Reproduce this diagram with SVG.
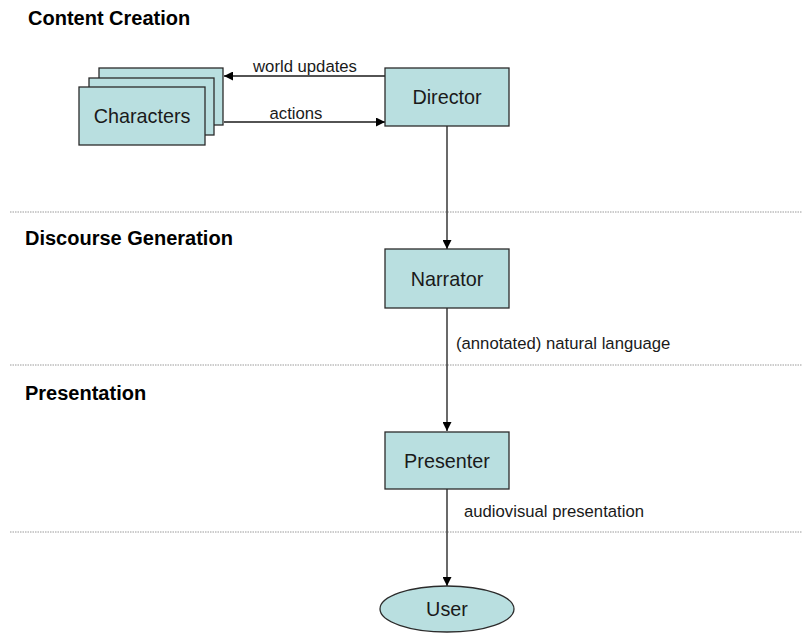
<svg xmlns="http://www.w3.org/2000/svg" width="802" height="633" viewBox="0 0 802 633">
  <style>
    .box { fill: #b9dfe0; stroke: #2b2b2b; stroke-width: 1.3; }
    .lbl { font-family: "Liberation Sans", Arial, sans-serif; font-size: 19.8px; fill: #1a1a1a; text-anchor: middle; }
    .edge { font-family: "Liberation Sans", Arial, sans-serif; font-size: 16.7px; fill: #1a1a1a; }
    .head { font-family: "Liberation Sans", Arial, sans-serif; font-size: 20px; font-weight: bold; fill: #000; }
    .sep { stroke: #9a9a9a; stroke-width: 1; stroke-dasharray: 1.5 1; }
    .conn { stroke: #1a1a1a; stroke-width: 1.3; fill: none; marker-end: url(#arrow); }
  </style>
  <defs>
    <marker id="arrow" viewBox="0 0 10 10" refX="10" refY="5" markerWidth="9" markerHeight="9" markerUnits="userSpaceOnUse" orient="auto">
      <path d="M0,0 L10,5 L0,10 Z" fill="#000"/>
    </marker>
  </defs>
  <rect width="802" height="633" fill="#fff"/>

  <!-- layer separators -->
  <g id="separators">
    <line class="sep" x1="10" y1="212" x2="802" y2="212"/>
    <line class="sep" x1="10" y1="365" x2="802" y2="365"/>
    <line class="sep" x1="10" y1="532" x2="802" y2="532"/>
  </g>

  <!-- layer headings -->
  <g id="headings">
    <text class="head" x="28" y="25">Content Creation</text>
    <text class="head" x="25" y="245">Discourse Generation</text>
    <text class="head" x="25" y="400">Presentation</text>
  </g>

  <!-- connectors -->
  <g id="connectors">
    <line class="conn" x1="385" y1="76" x2="224" y2="76"/>
    <line class="conn" x1="224" y1="122" x2="385" y2="122"/>
    <line class="conn" x1="447" y1="126" x2="447" y2="249"/>
    <line class="conn" x1="447" y1="308" x2="447" y2="431"/>
    <line class="conn" x1="447" y1="489" x2="447" y2="586"/>
    <text class="edge" x="305" y="72" text-anchor="middle">world updates</text>
    <text class="edge" x="296" y="119" text-anchor="middle">actions</text>
    <text class="edge" x="456" y="349">(annotated) natural language</text>
    <text class="edge" x="464" y="517">audiovisual presentation</text>
  </g>

  <g id="characters">
    <rect class="box" x="99" y="68" width="124" height="57"/>
    <rect class="box" x="89" y="78" width="125" height="57"/>
    <rect class="box" x="79" y="87" width="126" height="58"/>
    <text class="lbl" x="142" y="123">Characters</text>
  </g>

  <g id="director">
    <rect class="box" x="385" y="68" width="124" height="58"/>
    <text class="lbl" x="447" y="104">Director</text>
  </g>

  <g id="narrator">
    <rect class="box" x="385" y="249" width="124" height="59"/>
    <text class="lbl" x="447" y="286">Narrator</text>
  </g>

  <g id="presenter">
    <rect class="box" x="385" y="432" width="124" height="57"/>
    <text class="lbl" x="447" y="468">Presenter</text>
  </g>

  <g id="user">
    <ellipse class="box" cx="447" cy="609" rx="67" ry="23"/>
    <text class="lbl" x="447" y="616">User</text>
  </g>
</svg>
